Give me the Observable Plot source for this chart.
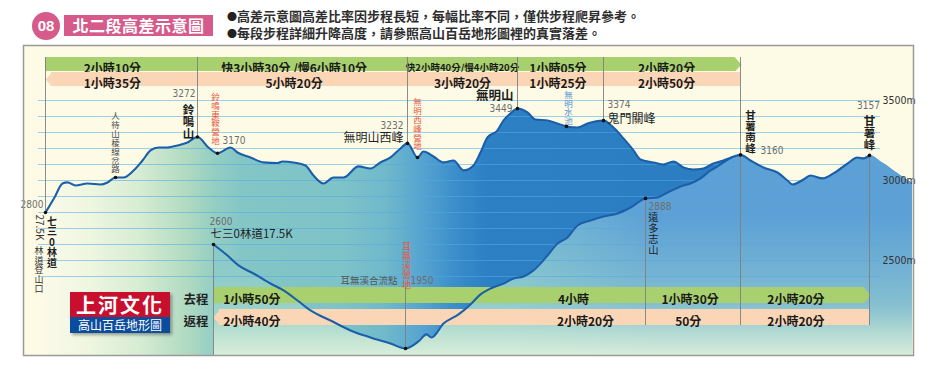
<!DOCTYPE html>
<html><head><meta charset="utf-8">
<script src="https://cdn.jsdelivr.net/npm/d3@7"></script>
<script src="https://cdn.jsdelivr.net/npm/@observablehq/plot@0.6"></script>
<style>
body{margin:0;background:#fff;font-family:"Noto Sans CJK TC","Noto Sans CJK SC",sans-serif;}
#wrap{position:relative;width:933px;height:382px;overflow:hidden;}
#head{position:relative;height:44px;}
.num{position:absolute;left:32px;top:12px;width:28px;height:28px;border-radius:50%;background:#d65a8a;color:#fff;font:bold 15px "Liberation Sans",sans-serif;text-align:center;line-height:28px;}
.title{position:absolute;left:64px;top:15px;width:149px;height:21px;background:#d65a8a;color:#fff;font-size:16px;font-weight:bold;line-height:21px;text-align:center;letter-spacing:0.5px;}
.dotb{position:absolute;left:227px;font-size:10px;color:#222;}
.b{position:absolute;left:237px;font-size:13px;color:#2e2e2e;white-space:nowrap;line-height:16px;font-weight:bold;}
#chart svg{display:block;}
#logo{position:absolute;left:70px;top:292px;width:100px;box-shadow:2px 2px 3px rgba(0,0,0,.35);}
#logo .r{background:#c8102e;height:25px;color:#fff;font-weight:bold;font-size:20px;line-height:25px;text-align:center;letter-spacing:2px;}
#logo .u{background:#0b4c9c;height:16px;color:#fff;font-size:12px;line-height:16px;text-align:center;}
</style></head><body>
<div id="wrap">
  <div id="head">
    <div class="num">08</div>
    <div class="title">北二段高差示意圖</div>
    <div class="dotb" style="top:9px">●</div>
    <div class="b" style="top:8px">高差示意圖高差比率因步程長短，每幅比率不同，僅供步程爬昇參考。</div>
    <div class="dotb" style="top:26px">●</div>
    <div class="b" style="top:25px">每段步程詳細升降高度，請參照高山百岳地形圖裡的真實落差。</div>
  </div>
  <div id="chart"></div>
  <div id="logo"><div class="r">上河文化</div><div class="u">高山百岳地形圖</div></div>
</div>
<script>
// ---------------- DATA ----------------
// main route profile: distance along track (arbitrary units) and elevation (m)
const mainDist = [
  0, 9, 17, 22, 30, 42, 55, 62, 70, 78,
  88, 97, 105, 113, 122, 132, 142, 152, 163, 172,
  185, 192, 205, 218, 232, 237, 248, 260, 268, 278,
  288, 298, 313, 325, 335, 345, 355, 362, 372, 378,
  388, 398, 408, 418, 428, 435, 442, 452, 458, 465,
  472, 482, 490, 502, 512, 521, 532, 542, 558, 568,
  578, 588, 595, 608, 618, 628, 638, 648, 658, 668,
  678, 686, 695, 705, 718, 732, 742, 747, 758, 765,
  777, 788, 802, 812, 818, 824, 838, 855, 867];
const mainElev = [
  2800, 2894, 2981, 2988, 2969, 2981, 2975, 2988, 3019, 3019,
  3062, 3125, 3188, 3206, 3206, 3219, 3238, 3272, 3206, 3170,
  3206, 3175, 3144, 3113, 3109, 3119, 3113, 3094, 3031, 2981,
  3019, 3019, 3088, 3075, 3113, 3144, 3200, 3232, 3144, 3181,
  3150, 3113, 3125, 3063, 3094, 3175, 3269, 3313, 3375, 3419,
  3449, 3425, 3381, 3375, 3356, 3338, 3331, 3356, 3374, 3331,
  3263, 3188, 3131, 3113, 3100, 3119, 3081, 3069, 3075, 3106,
  3125, 3144, 3160, 3125, 3081, 3050, 3000, 2975, 3006, 3031,
  3013, 3044, 3106, 3144, 3138, 3157, 3106, 3031, 2981];
// alternative route from 七三0林道17.5K via 耳無溪
const spurDist = [
  168, 182, 193, 208, 225, 238, 252, 265, 285, 305,
  325, 345, 360, 373, 381, 386, 398, 413, 425, 435,
  445, 458, 468, 478, 488, 502, 512, 522, 532, 545,
  558, 572, 585, 600, 612, 622, 635, 645, 655, 665,
  672, 678, 686];
const spurElev = [
  2600, 2531, 2469, 2419, 2356, 2313, 2250, 2188, 2125, 2063,
  2019, 1981, 1950, 1994, 2038, 2019, 2106, 2163, 2225, 2288,
  2325, 2356, 2388, 2400, 2438, 2531, 2606, 2644, 2719, 2750,
  2775, 2794, 2831, 2888, 2894, 2925, 2963, 2981, 3013, 3063,
  3088, 3113, 3144];
// waypoints
const wpName = ["七三0林道27.5K", "人待山稜線岔路", "鈴鳴山", "鈴鳴東鞍營地", "無明山西峰", "無明西峰營地", "無明山", "無明水池", "鬼門關峰", "甘薯南峰", "甘薯峰", "七三0林道17.5K", "耳無溪營地", "遠多志山"];
const wpDist = [0, 70, 152, 172, 362, 372, 472, 521, 558, 695, 824, 168, 360, 600];
const wpElev = [2800, 3019, 3272, 3170, 3232, 3144, 3449, 3338, 3374, 3160, 3157, 2600, 1950, 2888];
// walking times, upper route
const topStops = [0, 152, 362, 472, 558, 695];
const topGo = ["2小時10分", "快3小時30分 /慢6小時10分", "快2小時40分/慢4小時20分", "1小時05分", "2小時20分"];
const topBack = ["1小時35分", "5小時20分", "3小時20分", "1小時25分", "2小時50分"];
// walking times, lower route
const botStops = [168, 360, 600, 695, 824];
const botGo = ["1小時50分", "4小時", "1小時30分", "2小時20分"];
const botBack = ["2小時40分", "2小時20分", "50分", "2小時20分"];
const rowNames = ["去程", "返程"];
// elevation grid and axis labels
const gridElev = [2400, 2500, 2600, 2700, 2800, 2900, 3000, 3100, 3200, 3300, 3400, 3500];
const axisElev = [2500, 3000, 3500];

// ---------------- TABLES ----------------
const main = mainDist.map((d, i) => ({d, e: mainElev[i]}));
const spur = spurDist.map((d, i) => ({d, e: spurElev[i]}));
const lower = spur.concat(main.filter(p => p.d > spurDist[spurDist.length - 1]));
const wps = wpName.map((n, i) => ({name: n, d: wpDist[i], e: wpElev[i]}));
const wp = new Map(wps.map(w => [w.name, w]));
const topSegs = topGo.map((g, i) => ({start: topStops[i], end: topStops[i + 1], go: g, back: topBack[i], i}));
const botSegs = botGo.map((g, i) => ({start: botStops[i], end: botStops[i + 1], go: g, back: botBack[i], i}));

// ---------------- STYLE ----------------
const Y0 = 1906.25, Y1 = 3843.75; // y-scale domain (frame bottom / top)
const CJK = '"Noto Sans CJK TC","Noto Sans CJK SC",sans-serif';
const NUM = '"Liberation Sans Narrow","DejaVu Sans Condensed","Liberation Sans",sans-serif';
const GREEN = "#a8d06e", ORANGE = "#fbd6b6", LINE = "#1c5fa9", RULE = "#7f7f7f";
const RED = "#e8553e", BLUE = "#4a8fd0", GRAYTXT = "#6e6e6e";
const vert = s => Array.from(s).join("\n");
const P = n => [wp.get(n)];
const curve = "monotone-x";

function nameLabel(n, text, o) {
  return Plot.text(P(n), {x: "d", y: "e", text: () => text, fontFamily: CJK, fill: "#1e1e1e", ...o});
}
function elevLabel(n, o) {
  return Plot.text(P(n), {x: "d", y: "e", text: d => String(d.e), fontFamily: NUM, fontSize: 10, fill: GRAYTXT, ...o});
}
const tri = (xb, xt, h) => ({draw(ctx) { ctx.moveTo(xb, -h / 2); ctx.lineTo(xt, 0); ctx.lineTo(xb, h / 2); ctx.closePath(); }});

function barRow(segs, key, fill, insetTop, insetBottom, center, h, fracs, notch, arrow) {
  const last = segs.length - 1;
  const m = [];
  m.push(Plot.rect(segs, {x1: "start", x2: "end", fill, insetTop, insetBottom,
    filter: d => !(notch && d.i === 0) && !(arrow && d.i === last)}));
  if (notch) {
    m.push(Plot.rect(segs, {filter: d => d.i === 0, x1: "start", x2: "end", fill, insetTop, insetBottom, insetLeft: 6}));
    m.push(Plot.dot(segs, {filter: d => d.i === 0, x: "start", frameAnchor: "top", dy: center, r: 4, fill, symbol: tri(6.5, 0, h)}));
  }
  if (arrow) {
    m.push(Plot.rect(segs, {filter: d => d.i === last, x1: "start", x2: "end", fill, insetTop, insetBottom, insetRight: 5}));
    m.push(Plot.dot(segs, {filter: d => d.i === last, x: "end", frameAnchor: "top", dy: center, r: 4, fill, symbol: tri(-5.5, 1, h)}));
  }
  m.push(Plot.text(segs, {x: d => d.start + (d.end - d.start) * fracs[d.i], text: key, frameAnchor: "top", dy: center,
    fontFamily: CJK, fontWeight: "bold", fill: "#1a1a1a",
    fontSize: d => (d[key].length > 10 && d.end - d.start < 150) ? 9.5 : 12}));
  return m;
}

const topFrac = [0.44, 0.46, 0.5, 0.47, 0.46];
const botFracGo = [0.2, 0.7, 0.47, 0.43];
const botFracBack = [0.2, 0.75, 0.45, 0.43];

const upperRuleNames = ["七三0林道27.5K", "鈴鳴山", "無明山西峰", "無明山", "鬼門關峰"];
const downRuleNames = ["遠多志山", "甘薯峰"];

const svg = Plot.plot({
  width: 933, height: 338,
  marginTop: 1, marginLeft: 23, marginRight: 20, marginBottom: 27,
  x: {domain: [-22, 868], axis: null},
  y: {domain: [Y0, Y1], axis: null},
  style: {fontFamily: CJK, fontSize: "12px", background: "transparent"},
  marks: [
    Plot.frame({fill: "#fdfbe6", stroke: "none"}),
    Plot.areaY(main, {x: "d", y1: Y0, y2: "e", fill: "url(#gMain)", curve}),
    Plot.areaY(lower, {x: "d", y1: Y0, y2: "e", fill: "url(#gLow)", curve}),
    Plot.areaY(lower, {x: "d", y1: Y0, y2: "e", fill: "url(#gHaze)", curve}),
    Plot.ruleY(gridElev, {stroke: "#52a9e3", strokeOpacity: 0.55, strokeWidth: 1, insetLeft: 15, insetRight: 33}),
    // upper time bars
    ...barRow(topSegs, "go", GREEN, 12, 284, 19, 14, topFrac, false, true),
    ...barRow(topSegs, "back", ORANGE, 27, 269, 34, 14, topFrac, true, false),
    // lower time bars
    ...barRow(botSegs, "go", GREEN, 242, 52, 250, 16, botFracGo, false, true),
    ...barRow(botSegs, "back", ORANGE, 264, 30, 272, 16, botFracBack, true, false),
    Plot.text(rowNames, {filter: d => d === "去程", x: () => botStops[0], text: d => d, frameAnchor: "top", dy: 250, fontFamily: CJK, fontWeight: "bold", fontSize: 12.5, fill: "#222", textAnchor: "end", dx: -5}),
    Plot.text(rowNames, {filter: d => d === "返程", x: () => botStops[0], text: d => d, frameAnchor: "top", dy: 272, fontFamily: CJK, fontWeight: "bold", fontSize: 12.5, fill: "#222", textAnchor: "end", dx: -5}),
    // profile lines
    Plot.line(main, {x: "d", y: "e", stroke: LINE, strokeWidth: 2.1, curve, filter: d => d.d <= wp.get("甘薯峰").d}),
    Plot.line(spur, {x: "d", y: "e", stroke: LINE, strokeWidth: 2.1, curve}),
    // vertical reference rules
    Plot.ruleX(upperRuleNames.map(n => wp.get(n)), {x: "d", y1: Y1, y2: "e", insetTop: 12, stroke: RULE, strokeWidth: 0.9}),
    Plot.ruleX(downRuleNames.map(n => wp.get(n)), {x: "d", y1: "e", y2: Y0, insetBottom: 30, stroke: RULE, strokeWidth: 0.9}),
    Plot.ruleX(P("甘薯南峰"), {x: "d", y1: Y1, y2: Y0, insetTop: 12, insetBottom: 30, stroke: RULE, strokeWidth: 0.9}),
    Plot.ruleX(P("七三0林道17.5K"), {x: "d", y1: "e", y2: Y0, stroke: RULE, strokeWidth: 0.9}),
    Plot.ruleX(P("耳無溪營地"), {x: "d", y1: Y1, y2: "e", insetTop: 242, stroke: RULE, strokeWidth: 0.9}),
    Plot.dot(wps, {x: "d", y: "e", r: 1.8, fill: "#111"}),
    // labels
    elevLabel("七三0林道27.5K", {textAnchor: "end", dx: -2, dy: -8}),
    nameLabel("七三0林道27.5K", vert("七三0林道"), {fontWeight: "bold", fontSize: 10, lineHeight: 1.05, lineAnchor: "top", dx: 6.5, dy: 5}),
    nameLabel("七三0林道27.5K", "27.5K", {fontSize: 10, rotate: 90, textAnchor: "start", dx: -6.5, dy: 2, fill: "#333"}),
    nameLabel("七三0林道27.5K", vert("林道登山口"), {fontSize: 9, lineHeight: 1.05, lineAnchor: "top", dx: -6.5, dy: 35, fill: "#333"}),
    nameLabel("人待山稜線岔路", vert("人待山稜線岔路"), {fontSize: 8.5, lineHeight: 1.05, lineAnchor: "bottom", dy: -5, fill: "#4a4a4a"}),
    elevLabel("鈴鳴山", {textAnchor: "end", dx: -2, dy: -43}),
    nameLabel("鈴鳴山", vert("鈴鳴山"), {fontWeight: "bold", fontSize: 11.5, lineHeight: 1.05, lineAnchor: "bottom", dx: -9, dy: 1}),
    nameLabel("鈴鳴東鞍營地", vert("鈴鳴東鞍營地"), {fontSize: 8.5, lineHeight: 1.05, lineAnchor: "bottom", dx: -2, dy: -9, fill: RED}),
    elevLabel("鈴鳴東鞍營地", {textAnchor: "start", dx: 5, dy: -13}),
    elevLabel("無明山西峰", {textAnchor: "end", dx: -4, dy: -18}),
    nameLabel("無明山西峰", "無明山西峰", {fontSize: 12, textAnchor: "end", dx: -4, dy: -5}),
    nameLabel("無明西峰營地", vert("無明西峰營地"), {fontSize: 8.5, lineHeight: 1.05, lineAnchor: "bottom", dy: -8, fill: RED}),
    nameLabel("無明山", "無明山", {fontWeight: "bold", fontSize: 12.5, textAnchor: "end", dx: -4, dy: -13}),
    elevLabel("無明山", {textAnchor: "end", dx: -5, dy: 0}),
    nameLabel("無明水池", vert("無明水池"), {fontSize: 8.5, lineHeight: 1.05, lineAnchor: "bottom", dx: 2, dy: -2, fill: BLUE}),
    elevLabel("鬼門關峰", {textAnchor: "start", dx: 4, dy: -16}),
    nameLabel("鬼門關峰", "鬼門關峰", {fontSize: 12, textAnchor: "start", dx: 4, dy: -2}),
    nameLabel("甘薯南峰", vert("甘薯南峰"), {fontWeight: "bold", fontSize: 10.5, lineHeight: 1.05, lineAnchor: "bottom", dx: 10, dy: -3}),
    elevLabel("甘薯南峰", {textAnchor: "start", dx: 20, dy: -4}),
    elevLabel("甘薯峰", {textAnchor: "middle", dx: -1, dy: -50}),
    nameLabel("甘薯峰", vert("甘薯峰"), {fontWeight: "bold", fontSize: 11.5, lineHeight: 1.05, lineAnchor: "bottom", dy: -6}),
    elevLabel("七三0林道17.5K", {textAnchor: "start", dx: -4, dy: -23}),
    nameLabel("七三0林道17.5K", "七三0林道17.5K", {fontSize: 11.5, textAnchor: "start", dx: -3, dy: -10}),
    nameLabel("耳無溪營地", vert("耳無溪營地"), {fontSize: 9, lineHeight: 1.05, lineAnchor: "bottom", dx: 1, dy: -61, fill: RED}),
    nameLabel("耳無溪營地", "耳無溪合流點", {fontSize: 9.5, textAnchor: "end", dx: -8, dy: -68, fill: "#555"}),
    elevLabel("耳無溪營地", {textAnchor: "start", dx: 5, dy: -68}),
    elevLabel("遠多志山", {textAnchor: "start", dx: 3, dy: 8}),
    nameLabel("遠多志山", vert("遠多志山"), {fontSize: 10.3, lineHeight: 1.05, lineAnchor: "top", dx: 8, dy: 15}),
    // elevation axis labels
    Plot.text(axisElev, {y: d => d, text: d => d + "m", frameAnchor: "right", textAnchor: "start", dx: -31, fontFamily: NUM, fontSize: 10.5, fill: "#333"}),
    Plot.frame({stroke: "#9a9a9a", strokeWidth: 1.5})
  ]
});

// gradients
const defs = d3.select(svg).insert("defs", ":first-child");
function grad(id, vertical, stops) {
  const g = defs.append("linearGradient").attr("id", id).attr("gradientUnits", "userSpaceOnUse")
    .attr("x1", 0).attr("y1", 0).attr("x2", vertical ? 0 : 933).attr("y2", vertical ? 338 : 0);
  for (const [p, c, a] of stops) {
    g.append("stop").attr("offset", vertical ? (p - 44) / 338 : p / 933).attr("stop-color", c).attr("stop-opacity", a ?? 1);
  }
}
grad("gMain", false, [[45, "#fbfae9"], [90, "#eef6e0"], [140, "#d6ecd4"], [185, "#b2dbc2"], [212, "#96cfc3"], [240, "#84c6c6"], [340, "#7ec3c8"], [385, "#70b9cb"], [420, "#57a5d0"], [455, "#3b8ecb"], [485, "#2d80c4"], [912, "#2a7ac0"]]);
grad("gLow", false, [[213, "#84c7c6"], [420, "#80c3c8"], [520, "#76bbd0"], [600, "#66aad5"], [650, "#5ca0d6"], [912, "#5ca0d6"]]);
grad("gHaze", true, [[215, "#9fd4cc", 0], [265, "#9fd4cc", 0.3], [305, "#a8dacb", 0.55], [335, "#c8e7d4", 0.85], [355, "#def0dc", 0.95]]);

document.getElementById("chart").appendChild(svg);
</script>
</body></html>
